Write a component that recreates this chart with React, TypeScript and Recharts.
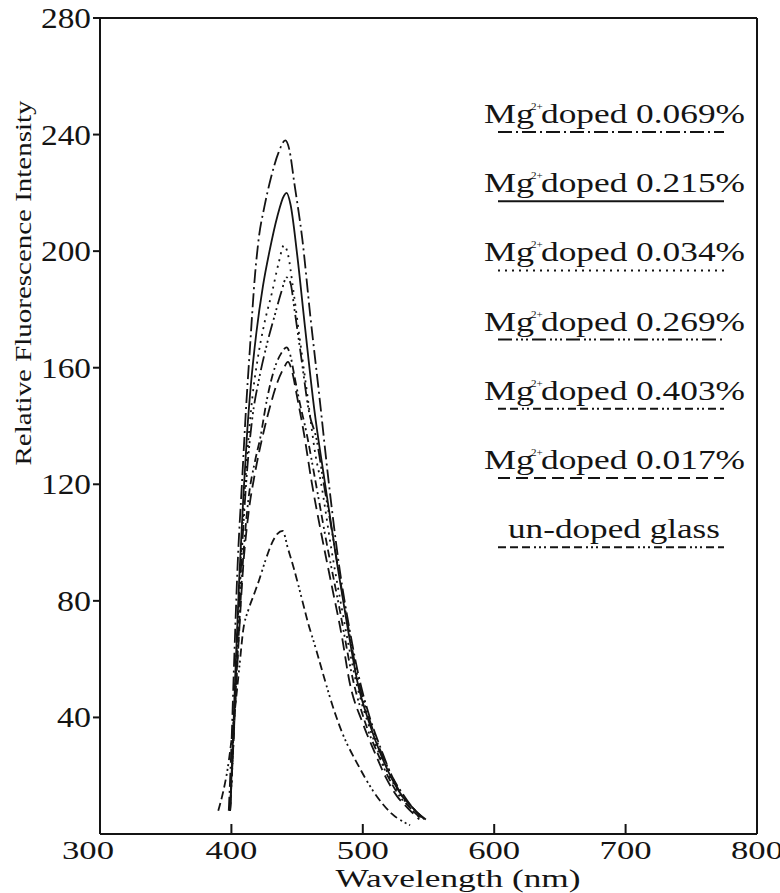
import React from 'react';
import { LineChart, Line, XAxis, YAxis, Legend } from 'recharts';

// ---- data ----
const X_TICKS = [300, 400, 500, 600, 700, 800];
const Y_TICKS = [40, 80, 120, 160, 200, 240, 280];

const WL_069 = [398, 400, 402, 405, 408, 411, 414, 418, 421, 425, 430, 436, 441, 444, 448, 454, 460, 467, 474, 482, 490, 498, 506, 514, 522, 530, 538, 548];
const I_069 = [8, 30, 58, 95, 120, 145, 166, 192, 205, 215, 225, 234, 238, 235, 223, 204, 178, 150, 121, 92, 70, 52, 39, 29, 20, 14, 9, 5];

const WL_215 = [399, 401, 403, 406, 409, 412, 415, 419, 424, 429, 435, 440, 442, 445, 450, 456, 463, 471, 480, 488, 496, 505, 514, 522, 530, 538, 547];
const I_215 = [8, 30, 55, 88, 115, 138, 155, 172, 188, 200, 212, 219, 220, 216, 199, 174, 146, 121, 94, 72, 52, 38, 27, 19, 13, 9, 5];

const WL_034 = [399, 401, 403, 406, 409, 412, 416, 420, 425, 431, 436, 440, 443, 447, 452, 458, 464, 468, 476, 485, 495, 504, 512, 520, 528, 536, 545];
const I_034 = [8, 28, 52, 84, 110, 130, 150, 163, 175, 186, 196, 202, 199, 187, 170, 150, 130, 121, 98, 75, 52, 38, 28, 20, 14, 9, 5];

const WL_269 = [399, 401, 403, 406, 409, 412, 416, 421, 427, 433, 438, 442, 445, 448, 453, 459, 465, 470, 478, 487, 497, 506, 514, 522, 530, 538, 546];
const I_269 = [8, 28, 50, 80, 105, 125, 143, 156, 168, 178, 186, 191, 189, 180, 164, 145, 135, 121, 100, 76, 52, 38, 28, 20, 13, 9, 5];

const WL_403 = [399, 401, 403, 406, 409, 413, 418, 422, 427, 433, 438, 442, 445, 448, 452, 457, 464, 472, 482, 493, 502, 511, 520, 528, 536, 545];
const I_403 = [8, 26, 46, 72, 95, 115, 128, 136, 149, 160, 165, 167, 164, 157, 148, 138, 121, 101, 78, 52, 38, 28, 19, 13, 9, 5];

const WL_017 = [399, 401, 403, 406, 409, 413, 418, 423, 429, 435, 440, 443, 446, 450, 455, 461, 468, 476, 484, 490, 500, 510, 518, 526, 534, 543];
const I_017 = [8, 26, 45, 70, 92, 110, 124, 135, 146, 155, 160, 162, 159, 150, 138, 121, 104, 86, 68, 52, 38, 27, 19, 13, 9, 5];

const WL_UND = [390, 394, 397, 400, 403, 406, 409, 413, 417, 421, 426, 431, 435, 439, 443, 447, 450, 454, 458, 464, 471, 477, 485, 496, 509, 522, 536];
const I_UND = [8, 15, 22, 32, 44, 57, 70, 77, 82, 87, 94, 100, 103, 104, 98, 92, 87, 80, 73, 64, 53, 44, 34, 24, 14, 7, 3];

const SERIES = [
  { key: 's069', main: 'Mg', sup: '2+', rest: 'doped 0.069%', wl: WL_069, iv: I_069, dash: '14 4 2 4' },
  { key: 's215', main: 'Mg', sup: '2+', rest: 'doped 0.215%', wl: WL_215, iv: I_215, dash: undefined },
  { key: 's034', main: 'Mg', sup: '2+', rest: 'doped 0.034%', wl: WL_034, iv: I_034, dash: '2 5' },
  { key: 's269', main: 'Mg', sup: '2+', rest: 'doped 0.269%', wl: WL_269, iv: I_269, dash: '14 4 2 3 2 3 2 4' },
  { key: 's403', main: 'Mg', sup: '2+', rest: 'doped 0.403%', wl: WL_403, iv: I_403, dash: '8 4 8 4 2 3 2 4' },
  { key: 's017', main: 'Mg', sup: '2+', rest: 'doped 0.017%', wl: WL_017, iv: I_017, dash: '12 6' },
  { key: 'sund', main: '', sup: '', rest: 'un-doped glass', wl: WL_UND, iv: I_UND, dash: '8 4 8 4 8 4 2 3 2 3 2 4' },
];

const FONT = '"Liberation Serif", "Times New Roman", serif';
const INK = '#141414';

const XTick = (p: any) => {
  const { x, y, payload } = p;
  const dx = payload.value === 300 ? -12 : 0;
  return (
    <text x={x + dx} y={y + 17} textAnchor="middle" fontSize={25} fontFamily={FONT} fill={INK}
      textLength={52} lengthAdjust="spacingAndGlyphs">{String(payload.value)}</text>
  );
};

const YTick = (p: any) => {
  const { x, y, payload } = p;
  const s = String(payload.value);
  return (
    <text x={x} y={y + 10} textAnchor="end" fontSize={29} fontFamily={FONT} fill={INK}
      textLength={s.length === 3 ? 50 : 34} lengthAdjust="spacingAndGlyphs">{s}</text>
  );
};

const renderLegend = () => {
  const x0 = 484;
  const y0 = 123;
  const step = 69.2;
  return (
    <svg width={780} height={893} style={{ position: 'absolute', left: 0, top: 0 }}>
      {SERIES.map((s, i) => {
        const by = y0 + i * step;
        return (
          <g key={s.key}>
            {s.main ? (
              <>
                <text x={x0} y={by} fontSize={27} fontFamily={FONT} fill={INK} textLength={50} lengthAdjust="spacingAndGlyphs">{s.main}</text>
                <text x={x0 + 47} y={by - 13} fontSize={11} fontFamily={FONT} fill={INK}>{s.sup}</text>
                <text x={x0 + 57} y={by} fontSize={27} fontFamily={FONT} fill={INK} textLength={204} lengthAdjust="spacingAndGlyphs">{s.rest}</text>
              </>
            ) : (
              <text x={508} y={by} fontSize={27} fontFamily={FONT} fill={INK} textLength={212} lengthAdjust="spacingAndGlyphs">{s.rest}</text>
            )}
            <line x1={498} x2={724} y1={by + 9} y2={by + 9} stroke={INK} strokeWidth={2} strokeDasharray={s.dash} />
          </g>
        );
      })}
    </svg>
  );
};

export default function App() {
  return (
    <div style={{ position: 'absolute', left: 0, top: 0, width: 780, height: 893, background: '#fff' }}>
      <LineChart width={780} height={893} margin={{ top: 17, right: 22, bottom: 0, left: 0 }}>
        <XAxis dataKey="x" type="number" domain={[300, 800]} ticks={X_TICKS} allowDataOverflow
          height={59} tickSize={-10} tickMargin={18} tick={<XTick />}
          axisLine={{ stroke: INK, strokeWidth: 2 }} tickLine={{ stroke: INK, strokeWidth: 2 }}
          label={{
            content: () => (
              <text x={458} y={887} textAnchor="middle" fontSize={25} fontFamily={FONT} fill={INK}
                textLength={245} lengthAdjust="spacingAndGlyphs">Wavelength (nm)</text>
            ),
          }}
        />
        <XAxis xAxisId="top" orientation="top" dataKey="x" type="number" domain={[300, 800]} height={1}
          ticks={X_TICKS} tick={false} tickLine={false} axisLine={{ stroke: INK, strokeWidth: 2 }} />
        <YAxis type="number" domain={[0, 280]} ticks={Y_TICKS} width={100} tickSize={7} tickMargin={2}
          tick={<YTick />} axisLine={{ stroke: INK, strokeWidth: 2 }} tickLine={{ stroke: INK, strokeWidth: 2 }}
          label={{
            content: () => (
              <text x={31} y={283} transform="rotate(-90, 31, 283)" textAnchor="middle" fontSize={24}
                fontFamily={FONT} fill={INK} textLength={365} lengthAdjust="spacingAndGlyphs">
                Relative Fluorescence Intensity
              </text>
            ),
          }}
        />
        <YAxis yAxisId="right" orientation="right" type="number" domain={[0, 280]} width={1}
          ticks={Y_TICKS} tick={false} tickLine={false} axisLine={{ stroke: INK, strokeWidth: 2 }} />
        {SERIES.map((s) => (
          <Line key={s.key} name={s.main + s.sup + s.rest} data={s.wl.map((x, i) => ({ x, y: s.iv[i] }))}
            dataKey="y" type="monotone" stroke={INK} strokeWidth={1.8} strokeDasharray={s.dash}
            dot={false} activeDot={false} isAnimationActive={false} />
        ))}
        <Legend content={renderLegend} layout="vertical" align="center" verticalAlign="middle"
          wrapperStyle={{ left: 0, top: 0, width: 780, height: 893, pointerEvents: 'none' }} />
      </LineChart>
    </div>
  );
}
